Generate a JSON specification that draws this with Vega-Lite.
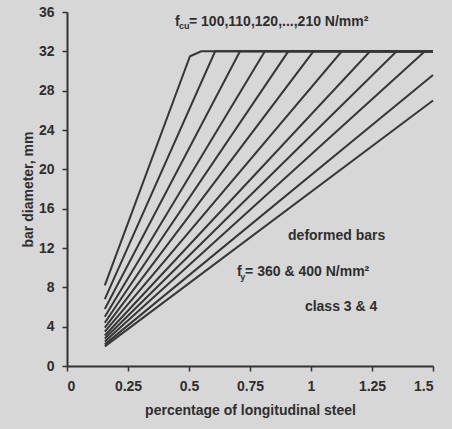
{
  "$schema": "https://vega.github.io/schema/vega-lite/v6.json",
  "width": 366,
  "height": 354,
  "autosize": {"type": "none"},
  "padding": {"left": 67, "top": 12, "right": 19, "bottom": 63},
  "background": "#d7d7d7",
  "config": {
    "view": {"stroke": null},
    "font": "Liberation Sans",
    "axis": {
      "grid": false,
      "labelOverlap": false,
      "tickCount": 20,
      "domainColor": "#333333",
      "domainWidth": 2,
      "tickColor": "#333333",
      "tickWidth": 1.5,
      "tickSize": 5,
      "labelFont": "Liberation Sans",
      "labelFontSize": 14,
      "labelFontWeight": "bold",
      "labelColor": "#2e2e2e",
      "titleFont": "Liberation Sans",
      "titleFontSize": 14,
      "titleFontWeight": "bold",
      "titleColor": "#2e2e2e"
    }
  },
  "datasets": {
    "lines": [
      {"fcu": 100, "ord": 1, "x": 0.155, "y": 8.2},
      {"fcu": 100, "ord": 2, "x": 0.504, "y": 31.5},
      {"fcu": 100, "ord": 3, "x": 0.55, "y": 32},
      {"fcu": 100, "ord": 4, "x": 1.5, "y": 32},
      {"fcu": 110, "ord": 1, "x": 0.155, "y": 6.8},
      {"fcu": 110, "ord": 2, "x": 0.607, "y": 32},
      {"fcu": 110, "ord": 3, "x": 1.5, "y": 32},
      {"fcu": 120, "ord": 1, "x": 0.155, "y": 5.8},
      {"fcu": 120, "ord": 2, "x": 0.709, "y": 32},
      {"fcu": 120, "ord": 3, "x": 1.5, "y": 32},
      {"fcu": 130, "ord": 1, "x": 0.155, "y": 5.0},
      {"fcu": 130, "ord": 2, "x": 0.811, "y": 32},
      {"fcu": 130, "ord": 3, "x": 1.5, "y": 32},
      {"fcu": 140, "ord": 1, "x": 0.155, "y": 4.4},
      {"fcu": 140, "ord": 2, "x": 0.907, "y": 32},
      {"fcu": 140, "ord": 3, "x": 1.5, "y": 32},
      {"fcu": 150, "ord": 1, "x": 0.155, "y": 3.9},
      {"fcu": 150, "ord": 2, "x": 1.01, "y": 32},
      {"fcu": 150, "ord": 3, "x": 1.5, "y": 32},
      {"fcu": 160, "ord": 1, "x": 0.155, "y": 3.5},
      {"fcu": 160, "ord": 2, "x": 1.126, "y": 32},
      {"fcu": 160, "ord": 3, "x": 1.5, "y": 32},
      {"fcu": 170, "ord": 1, "x": 0.155, "y": 3.1},
      {"fcu": 170, "ord": 2, "x": 1.242, "y": 32},
      {"fcu": 170, "ord": 3, "x": 1.5, "y": 32},
      {"fcu": 180, "ord": 1, "x": 0.155, "y": 2.8},
      {"fcu": 180, "ord": 2, "x": 1.351, "y": 32},
      {"fcu": 180, "ord": 3, "x": 1.5, "y": 32},
      {"fcu": 190, "ord": 1, "x": 0.155, "y": 2.5},
      {"fcu": 190, "ord": 2, "x": 1.467, "y": 32},
      {"fcu": 190, "ord": 3, "x": 1.5, "y": 32},
      {"fcu": 200, "ord": 1, "x": 0.155, "y": 2.2},
      {"fcu": 200, "ord": 2, "x": 1.5, "y": 29.6},
      {"fcu": 210, "ord": 1, "x": 0.155, "y": 2.0},
      {"fcu": 210, "ord": 2, "x": 1.5, "y": 27.0}
    ],
    "labels": [
      {"x": 0.443, "y": 35.0, "text": "f"},
      {"x": 0.5, "y": 35.0, "text": "= 100,110,120,...,210 N/mm²"},
      {"x": 0.906, "y": 13.2, "text": "deformed bars"},
      {"x": 0.697, "y": 9.56, "text": "f"},
      {"x": 0.73, "y": 9.56, "text": "= 360 & 400 N/mm²"},
      {"x": 0.975, "y": 6.0, "text": "class 3 & 4"}
    ],
    "subs": [
      {"x": 0.459, "y": 34.6, "text": "cu"},
      {"x": 0.71, "y": 9.1, "text": "y"}
    ]
  },
  "layer": [
    {
      "data": {"name": "lines"},
      "mark": {"type": "line", "color": "#363636", "strokeWidth": 2},
      "encoding": {
        "x": {
          "field": "x", "type": "quantitative",
          "scale": {"domain": [0, 1.5], "nice": false, "zero": false},
          "axis": {
            "values": [0, 0.25, 0.5, 0.75, 1, 1.25, 1.5],
            "labelExpr": "datum.value + ''",
            "title": "percentage of longitudinal steel",
            "labelPadding": 8,
            "titlePadding": 10
          }
        },
        "y": {
          "field": "y", "type": "quantitative",
          "scale": {"domain": [0, 36], "nice": false},
          "axis": {
            "values": [0, 4, 8, 12, 16, 20, 24, 28, 32, 36],
            "tickCount": 20,
            "title": "bar diameter, mm",
            "labelPadding": 8,
            "titlePadding": 3
          }
        },
        "detail": {"field": "fcu", "type": "nominal"},
        "order": {"field": "ord", "type": "quantitative"}
      }
    },
    {
      "data": {"name": "labels"},
      "mark": {"type": "text", "align": "left", "baseline": "middle", "font": "Liberation Sans", "fontSize": 14, "fontWeight": "bold", "color": "#2e2e2e"},
      "encoding": {
        "x": {"field": "x", "type": "quantitative"},
        "y": {"field": "y", "type": "quantitative"},
        "text": {"field": "text", "type": "nominal"}
      }
    },
    {
      "data": {"name": "subs"},
      "mark": {"type": "text", "align": "left", "baseline": "middle", "font": "Liberation Sans", "fontSize": 9, "fontWeight": "bold", "color": "#2e2e2e"},
      "encoding": {
        "x": {"field": "x", "type": "quantitative"},
        "y": {"field": "y", "type": "quantitative"},
        "text": {"field": "text", "type": "nominal"}
      }
    }
  ]
}
